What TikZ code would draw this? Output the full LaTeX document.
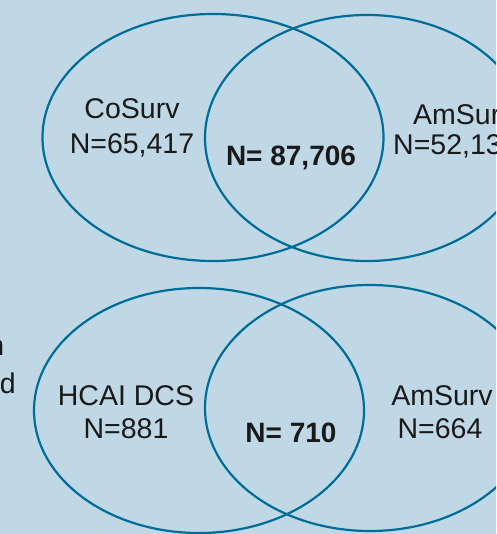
\documentclass[tikz,border=0pt]{standalone}
\usepackage{fontspec}
\setmainfont{Liberation Sans}
\usepackage{tikz}
\usetikzlibrary{positioning}
\definecolor{panelblue}{HTML}{C0D8E6}
\definecolor{setblue}{HTML}{006D98}
\tikzset{
    venn/.style={
            x=1pt,y=-1pt,
            set/.style={draw=setblue,line width=2.2pt},
            count/.style={anchor=base,align=center,font=\fontsize{28.5}{34}\selectfont,text=black!90},
            overlap/.style={anchor=base,font=\fontsize{28}{34}\selectfont\bfseries,text=black!90}
        }
    }

\begin{document}
\begin{tikzpicture}[venn]
                \fill[panelblue] (0,0) rectangle (496,534);
                \useasboundingbox (0,0) rectangle (496,534);
                \clip (0,0) rectangle (496,534);
                % cut-off side text
                \node (sideN) [count,anchor=base east,inner sep=0pt] at (4.5,355) {n};
                \node (sideD) [count,anchor=base east,inner sep=0pt] at (16,393) {d};
                % upper diagram
                \draw [set] (213,137.5) ellipse [x radius=170.5pt,y radius=123.5pt];
                \draw [set] (367,138) ellipse [x radius=162pt,y radius=123pt];
                \node (CoSurv) [count] at (132,119) {CoSurv};
                \node (CoSurvN) [count] at (132,154) {N=65,417};
                \node (AmSurvA) [count,anchor=base west,inner sep=0pt] at (413,125) {AmSurv};
                \node (AmSurvAN) [count,anchor=base west,inner sep=0pt] at (393,155) {N=52,13};
                \node (bothA) [overlap] at (291,166) {N= 87,706};
                % lower diagram
                \draw [set] (199,410.5) ellipse [x radius=165pt,y radius=122.5pt];
                \draw [set] (370,408) ellipse [x radius=165pt,y radius=123pt];
                \node (HCAI) [count] at (126,405) {HCAI DCS};
                \node (HCAIN) [count] at (126,438) {N=881};
                \node (AmSurvB) [count] at (442,405) {AmSurv};
                \node (AmSurvBN) [count] at (440,438) {N=664};
                \node (bothB) [overlap] at (291,442) {N= 710};
            \end{tikzpicture}
\end{document}
